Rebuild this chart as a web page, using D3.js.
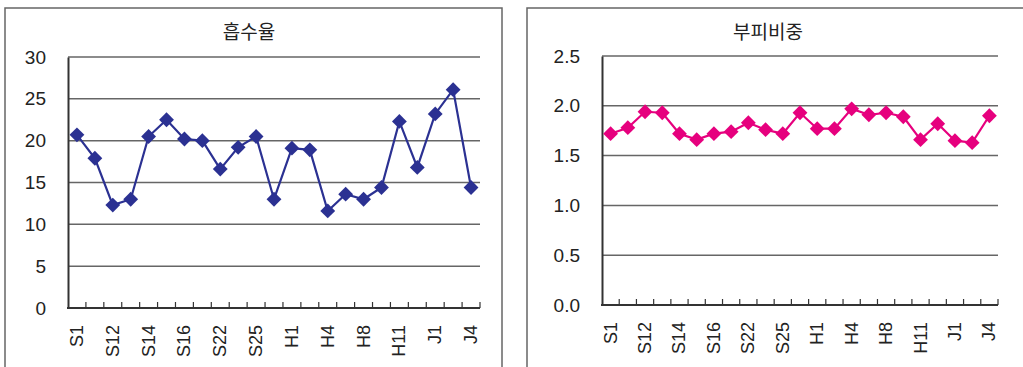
<!DOCTYPE html>
<html>
<head>
<meta charset="utf-8">
<script src="https://cdn.jsdelivr.net/npm/d3@7"></script>
<style>
  html, body { margin: 0; padding: 0; background: #fff; }
  svg { display: block; }
</style>
</head>
<body>
<svg id="chart" width="1023" height="367"></svg>
<script>
// Axis labels shown under every other sample (23 samples in total)
const tickLabels = ["S1", "", "S12", "", "S14", "", "S16", "", "S22", "", "S25", "",
                    "H1", "", "H4", "", "H8", "", "H11", "", "J1", "", "J4"];

// 흡수율 (absorption rate)
const absorption = [20.7, 17.9, 12.3, 13.0, 20.5, 22.5, 20.2, 20.0, 16.6, 19.2, 20.5, 13.0,
                    19.1, 18.9, 11.6, 13.6, 13.0, 14.4, 22.3, 16.8, 23.2, 26.1, 14.4];

// 부피비중 (bulk specific gravity)
const bulkGravity = [1.72, 1.78, 1.94, 1.93, 1.72, 1.66, 1.72, 1.74, 1.83, 1.76, 1.72, 1.93,
                     1.77, 1.77, 1.97, 1.91, 1.93, 1.89, 1.66, 1.82, 1.65, 1.63, 1.90];

const absorptionTicks = [0, 5, 10, 15, 20, 25, 30];
const gravityTicks = [0, 0.5, 1.0, 1.5, 2.0, 2.5];

const svg = d3.select("#chart");
const numFont = "'Liberation Sans', Arial, sans-serif";
const krFont = "'Noto Sans CJK KR', sans-serif";

function drawPanel(cfg) {
  const g = svg.append("g");

  // panel frame
  g.append("rect")
    .attr("x", cfg.frame.x).attr("y", cfg.frame.y)
    .attr("width", cfg.frame.w).attr("height", cfg.frame.h)
    .attr("fill", "#fff").attr("stroke", "#666").attr("stroke-width", 1.5);

  // title
  g.append("text")
    .attr("x", cfg.titleX).attr("y", 39)
    .attr("text-anchor", "middle")
    .attr("font-family", krFont).attr("font-size", 19)
    .attr("fill", "#222")
    .text(cfg.title);

  const x = d3.scaleBand().domain(d3.range(cfg.values.length))
    .range([cfg.plot.left, cfg.plot.right]);
  const y = d3.scaleLinear().domain(cfg.domain)
    .range([cfg.plot.bottom, cfg.plot.top]);

  // horizontal gridlines
  g.append("g").selectAll("line")
    .data(cfg.ticks.filter(t => t > cfg.domain[0]))
    .join("line")
    .attr("x1", cfg.plot.left).attr("x2", cfg.plot.right)
    .attr("y1", d => y(d)).attr("y2", d => y(d))
    .attr("stroke", "#666").attr("stroke-width", 1.5);

  // y axis
  const yAxis = d3.axisLeft(y).tickValues(cfg.ticks).tickSize(0).tickPadding(22)
    .tickFormat(cfg.format);
  const ya = g.append("g").attr("transform", `translate(${cfg.plot.left},0)`).call(yAxis);
  ya.select(".domain").attr("stroke", "#333").attr("stroke-width", 2);
  ya.selectAll("text").attr("font-family", numFont).attr("font-size", 19)
    .attr("fill", "#222");

  // x axis: ticks at category boundaries, pointing into the plot
  const bounds = d3.range(cfg.values.length + 1).map(i => cfg.plot.left + i * x.step());
  g.append("g").selectAll("line").data(bounds.slice(1)).join("line")
    .attr("x1", d => d).attr("x2", d => d)
    .attr("y1", cfg.plot.bottom).attr("y2", cfg.plot.bottom - 6)
    .attr("stroke", "#333").attr("stroke-width", 1.2);
  g.append("line")
    .attr("x1", cfg.plot.left - 1).attr("x2", cfg.plot.right)
    .attr("y1", cfg.plot.bottom).attr("y2", cfg.plot.bottom)
    .attr("stroke", "#333").attr("stroke-width", 2);

  g.append("g").selectAll("text").data(tickLabels).join("text")
    .attr("transform", (d, i) => `translate(${x(i) + x.bandwidth() / 2 + 6},${cfg.plot.bottom + 17}) rotate(-90)`)
    .attr("text-anchor", "end")
    .attr("font-family", numFont).attr("font-size", 18)
    .attr("fill", "#222")
    .text(d => d);

  // series line
  const line = d3.line()
    .x((d, i) => x(i) + x.bandwidth() / 2)
    .y(d => y(d));
  g.append("path").datum(cfg.values)
    .attr("d", line)
    .attr("fill", "none").attr("stroke", cfg.color).attr("stroke-width", 2.2);

  // diamond markers
  const diamond = d3.symbol().type(d3.symbolDiamond2).size(140);
  g.append("g").selectAll("path").data(cfg.values).join("path")
    .attr("transform", (d, i) => `translate(${x(i) + x.bandwidth() / 2},${y(d)})`)
    .attr("d", diamond)
    .attr("fill", cfg.color);
}

drawPanel({
  title: "흡수율",
  titleX: 249,
  frame: { x: 5, y: 8, w: 497, h: 370 },
  plot: { left: 68, right: 480, top: 57, bottom: 308 },
  domain: [0, 30],
  ticks: absorptionTicks,
  format: d3.format("d"),
  values: absorption,
  color: "#2b3192"
});

drawPanel({
  title: "부피비중",
  titleX: 768,
  frame: { x: 527, y: 8, w: 520, h: 370 },
  plot: { left: 602, right: 998, top: 56, bottom: 305 },
  domain: [0, 2.5],
  ticks: gravityTicks,
  format: d3.format(".1f"),
  values: bulkGravity,
  color: "#e6007e"
});
</script>
</body>
</html>
